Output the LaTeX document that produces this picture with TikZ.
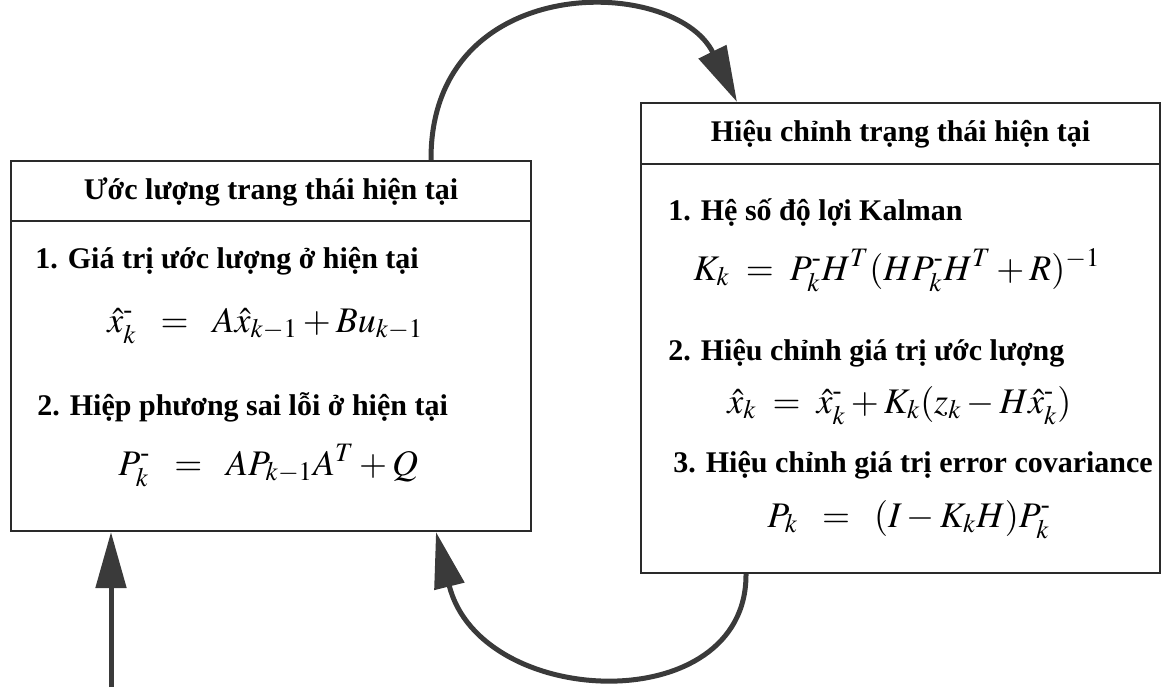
\documentclass[tikz,border=0pt]{standalone}
\usepackage{amsmath}
\usepackage{mathptmx}
\usepackage{fontspec}
\setmainfont{Liberation Serif}
\usepackage{tikz}
\usetikzlibrary{arrows.meta,positioning}
\definecolor{arcgray}{HTML}{3A3A3A}
\definecolor{boxgray}{HTML}{2A2A2A}
\newcommand{\apr}{^{\text{-}}}

\begin{document}
\begin{tikzpicture}[
  x=0.5pt,y=-0.5pt,
  box/.style={draw=boxgray,line width=1pt,rectangle},
  ttl/.style={font=\bfseries\fontsize{15}{18}\selectfont,inner sep=0pt},
  itm/.style={anchor=base west,font=\bfseries\fontsize{15}{18}\selectfont,inner sep=0pt},
  eqn/.style={anchor=base west,font=\fontsize{18}{21}\selectfont,inner sep=0pt},
  arr/.style={draw=arcgray,line width=2.5pt,-{Triangle[length=28pt,width=15pt,fill=arcgray]}}
]
\useasboundingbox (0,0) rectangle (1165,687);

% the two boxes
\node[box,minimum width=260pt,minimum height=185pt] (est) at (271,346) {};
\node[box,minimum width=259.5pt,minimum height=235pt] (corr) at (900.5,338) {};
\draw[boxgray,line width=1pt] ([yshift=-30.5pt]est.north west) -- ([yshift=-30.5pt]est.north east);
\draw[boxgray,line width=1pt] ([yshift=-31pt]corr.north west) -- ([yshift=-31pt]corr.north east);

% left box: prediction
\node[ttl] (esttitle) at (271,191.5) {Ước lượng trang thái hiện tại};
\node[itm] (est1) at (35,268) {1. Giá trị ước lượng ở hiện tại};
\node[eqn] (esteq1) at (107,332) {$\hat{x}\apr_{k} \;\;=\;\; A\hat{x}_{k-1}+Bu_{k-1}$};
\node[itm] (est2) at (37,415) {2. Hiệp phương sai lỗi ở hiện tại};
\node[eqn] (esteq2) at (118,475) {$P\apr_{k} \;\;=\;\; AP_{k-1}A^{T}+Q$};

% right box: correction
\node[ttl] (corrtitle) at (900.5,134) {Hiệu chỉnh trạng thái hiện tại};
\node[itm] (corr1) at (668,220) {1. Hệ số độ lợi Kalman};
\node[eqn] (correq1) at (693,280) {$K_{k} \;=\; P\apr_{k}H^{T}(HP\apr_{k}H^{T}+R)^{-1}$};
\node[itm] (corr2) at (668,360) {2. Hiệu chỉnh giá trị ước lượng};
\node[eqn] (correq2) at (727,413) {$\hat{x}_{k} \;=\; \hat{x}\apr_{k}+K_{k}(z_{k}-H\hat{x}\apr_{k})$};
\node[itm] (corr3) at (673,472) {3. Hiệu chỉnh giá trị error covariance};
\node[eqn] (correq3) at (767,527) {$P_{k} \;\;=\;\; (I-K_{k}H)P\apr_{k}$};

% loop arrows
\coordinate (in) at (111,687);
\draw[arr] (in) -- (in |- est.south);
\draw[arr] ([xshift=-50.5pt]est.north east) .. controls (430,-30) and (675,-25) .. ([xshift=48.5pt]corr.north west);
\draw[arr] ([xshift=53pt]corr.south west) .. controls (747,720) and (480,710) .. ([xshift=-48pt]est.south east);
\end{tikzpicture}
\end{document}
